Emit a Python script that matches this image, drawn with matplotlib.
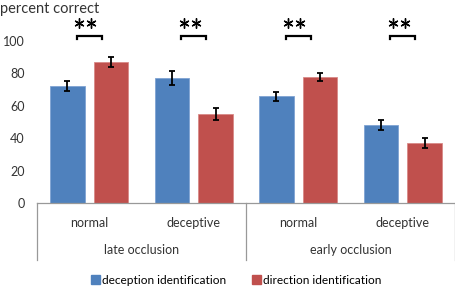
import matplotlib

matplotlib.use("Agg")
import matplotlib.pyplot as plt
import matplotlib.transforms as mtransforms
from matplotlib.patches import Patch

# data
conditions = ["normal", "deceptive", "normal", "deceptive"]
occlusions = ["late occlusion", "early occlusion"]
deception_id = [72, 77, 66, 48]
deception_err = [3.0, 4.2, 2.8, 3.2]
direction_id = [87, 55, 78, 37]
direction_err = [3.0, 3.8, 2.5, 3.0]
series_names = ["deception identification", "direction identification"]

BLUE = "#4f81bd"
RED = "#c0504d"

plt.rcParams.update({"font.family": ["Lato", "DejaVu Sans"], "font.size": 8.5})

fig = plt.figure(figsize=(4.55, 2.88), dpi=100)
ax = fig.add_axes([37 / 455, 1 - 203 / 288, 418 / 455, 162 / 288])

x = list(range(len(conditions)))
w = 0.33
off = 0.21
ekw = dict(ecolor="black", elinewidth=1.3, capsize=2.5, capthick=1.3)
ax.bar([i - off for i in x], deception_id, w, color=BLUE, edgecolor="#7fa3d3",
       linewidth=0.6, yerr=deception_err, error_kw=ekw)
ax.bar([i + off for i in x], direction_id, w, color=RED, edgecolor="#d98a88",
       linewidth=0.6, yerr=direction_err, error_kw=ekw)

ax.set_xlim(-0.5, 3.5)
ax.set_ylim(0, 100)
ax.set_yticks(range(0, 101, 20))
ax.tick_params(axis="y", length=0, pad=9, labelsize=9, colors="#333333")
ax.set_xticks([])
for s in ("top", "right", "left"):
    ax.spines[s].set_visible(False)
ax.spines["bottom"].set_color("#999999")
ax.spines["bottom"].set_linewidth(0.9)

# significance brackets with two asterisks
for i in x:
    ax.plot([i - 0.12, i - 0.12, i + 0.12, i + 0.12], [101.5, 103, 103, 101.5],
            color="black", lw=1.6, clip_on=False, solid_joinstyle="miter")
    ax.plot([i - 0.095, i + 0.02], [111, 111], ls="none", marker=(6, 2, 0),
            ms=7.2, mew=1.0, color="black", clip_on=False)

# two-level category axis
trans = mtransforms.blended_transform_factory(ax.transData, ax.transAxes)
for xv in (-0.5, 1.5, 3.5):
    ax.plot([xv, xv], [0, -0.35], color="#999999", lw=0.9, transform=trans,
            clip_on=False)
for i, c in zip(x, conditions):
    ax.text(i, -0.125, c, ha="center", va="center", transform=trans,
            fontsize=9, color="#333333")
for j, o in enumerate(occlusions):
    ax.text(2 * j + 0.5, -0.29, o, ha="center", va="center", transform=trans,
            fontsize=9, color="#333333")

fig.text(0.0, 1 - 9 / 288, "percent correct", ha="left", va="center",
         fontsize=10.5, color="#333333")

handles = [Patch(color=BLUE), Patch(color=RED)]
fig.legend(handles, series_names, loc="center", ncol=2,
           bbox_to_anchor=(236 / 455, 1 - 280 / 288), frameon=False,
           handlelength=0.75, handleheight=0.75, handletextpad=0.15,
           columnspacing=2.2, fontsize=8.6)

fig.savefig("out.png", dpi=100)
